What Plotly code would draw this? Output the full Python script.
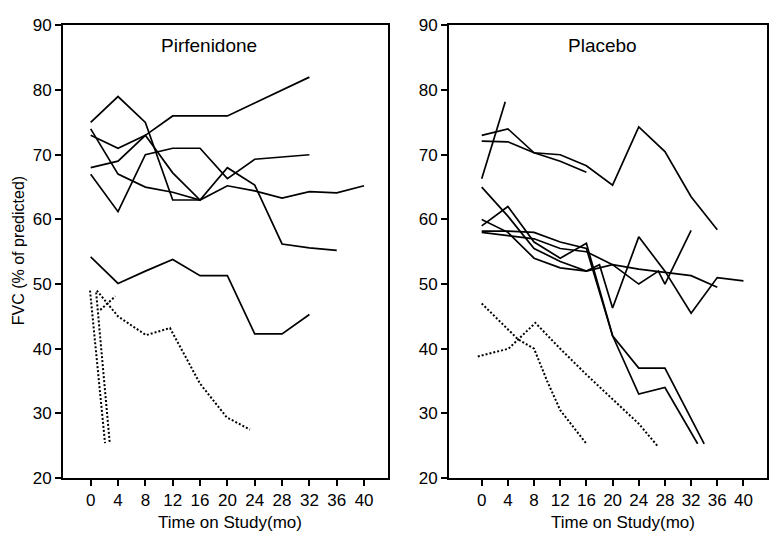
import plotly.graph_objects as go

# ---------------- data (months, FVC % predicted) ----------------
# Pirfenidone – solid lines
pirf_solid_x = [
    [0, 4, 8, 12, 16],
    [0, 4, 8, 12, 16, 20, 24, 28, 32, 36, 40],
    [0, 4, 8, 12, 16, 20, 24, 28, 32],
    [0, 4, 8, 12, 16, 20, 24, 28, 32, 36],
    [0, 4, 8, 12, 16, 20, 24, 28, 32],
    [0, 4, 8, 12, 16, 20, 24, 28, 32],
]
pirf_solid_y = [
    [75, 79, 75, 63, 63],
    [74, 67, 65, 64.2, 63, 65.2, 64.4, 63.3, 64.3, 64.1, 65.2],
    [73, 71, 73, 76, 76, 76, 78, 80, 82],
    [68, 69, 73, 67.2, 63, 68, 65.3, 56.2, 55.6, 55.2],
    [67, 61.2, 70, 71, 71, 66.3, 69.3, 69.6, 70],
    [54.2, 50.1, 52, 53.8, 51.3, 51.3, 42.3, 42.3, 45.3],
]
# Pirfenidone – dotted lines
pirf_dot_x = [
    [-0.1, 2.1],
    [0.8, 2.8],
    [1.4, 3.6],
    [0.9, 4, 8.1, 11.6, 16, 19.9, 23.3],
]
pirf_dot_y = [
    [49, 25.4],
    [48.7, 25.3],
    [46, 48.1],
    [49, 45, 42.1, 43.2, 34.6, 29.4, 27.5],
]

# Placebo – solid lines
plac_solid_x = [
    [0, 3.6],
    [0, 4, 8, 12, 16, 20, 24, 28, 32, 36],
    [0, 4, 8, 12, 16],
    [0, 4, 8, 12, 16, 20, 24, 28, 32, 36],
    [0, 4, 8, 12, 16, 20, 24, 28, 34],
    [0, 4, 8, 12, 16, 20, 24, 28, 33],
    [0, 4, 8, 12, 16, 18, 20, 24, 28, 32, 36, 40],
    [0, 4, 8, 12, 16, 20, 24, 27, 28, 32],
]
plac_solid_y = [
    [66.3, 78.2],
    [73, 74, 70.3, 70, 68.3, 65.3, 74.3, 70.5, 63.5, 58.4],
    [72.1, 72, 70.3, 69, 67.3],
    [65, 60.5, 55.5, 53.5, 52, 53, 52.3, 51.8, 51.3, 49.5],
    [59, 62, 56.5, 54, 56.3, 42, 37, 37, 25.3],
    [58.2, 58.2, 58, 56.5, 55.5, 42, 33, 34, 25.3],
    [60, 58, 54, 52.5, 52, 53, 46.3, 57.3, 52, 45.5, 51, 50.5],
    [58, 57.5, 57, 55.5, 55, 53, 50, 52, 50, 58.3],
]
# Placebo – dotted lines
plac_dot_x = [
    [0, 5.5, 8, 10, 12, 16],
    [-0.6, 4.1, 8.2, 12, 16, 20, 24, 27],
]
plac_dot_y = [
    [47, 41.5, 40, 35, 30.5, 25.3],
    [38.8, 40, 44, 40, 36, 32.2, 28.4, 24.8],
]

panel_titles = ["Pirfenidone", "Placebo"]
x_title = "Time on Study(mo)"
y_title = "FVC (% of predicted)"
x_ticks = [0, 4, 8, 12, 16, 20, 24, 28, 32, 36, 40]
y_ticks = [20, 30, 40, 50, 60, 70, 80, 90]

# ---------------- figure ----------------
W, H = 769, 545
FONT = "Liberation Sans, Arial, Helvetica, sans-serif"

fig = go.Figure()

def add_lines(xs, ys, xa, ya, dotted):
    for x, y in zip(xs, ys):
        fig.add_trace(go.Scatter(
            x=x, y=y, mode="lines", xaxis=xa, yaxis=ya,
            line=dict(color="black", width=2 if dotted else 1.7,
                      dash="2px,2px" if dotted else "solid"),
            showlegend=False, hoverinfo="skip"))

add_lines(pirf_solid_x, pirf_solid_y, "x", "y", False)
add_lines(pirf_dot_x, pirf_dot_y, "x", "y", True)
add_lines(plac_solid_x, plac_solid_y, "x2", "y2", False)
add_lines(plac_dot_x, plac_dot_y, "x2", "y2", True)

ydom = [1 - 486 / H, 1 - 17 / H]
axis_common = dict(showgrid=False, zeroline=False, showline=True,
                   linecolor="black", linewidth=2, mirror=True,
                   ticks="outside", ticklen=6, tickwidth=1.5, tickcolor="black",
                   tickfont=dict(family=FONT, size=17, color="black"))

fig.update_layout(
    width=W, height=H, autosize=False,
    margin=dict(l=0, r=0, t=0, b=0, pad=0),
    paper_bgcolor="white", plot_bgcolor="white",
    xaxis=dict(domain=[63 / W, 388 / W], range=[-4.05, 43.5],
               tickvals=x_ticks, anchor="y", **axis_common),
    yaxis=dict(domain=ydom, range=[20, 90], tickvals=y_ticks,
               anchor="x", **axis_common),
    xaxis2=dict(domain=[449 / W, 767 / W], range=[-5.0, 43.6],
                tickvals=x_ticks, anchor="y2", **axis_common),
    yaxis2=dict(domain=ydom, range=[20, 90], tickvals=y_ticks,
                anchor="x2", **axis_common),
)

def ann(text, px, py, size, angle=0):
    fig.add_annotation(text=text, x=px / W, y=1 - py / H, xref="paper", yref="paper",
                       xanchor="center", yanchor="middle", showarrow=False,
                       textangle=angle,
                       font=dict(family=FONT, size=size, color="black"))

ann(panel_titles[0], 209, 38, 19)
ann(panel_titles[1], 602, 38, 19)
ann(x_title, 230, 532, 17)
ann(x_title, 623, 532, 17)
ann(y_title, 18, 251, 16, -90)

fig.write_html("out.html")
